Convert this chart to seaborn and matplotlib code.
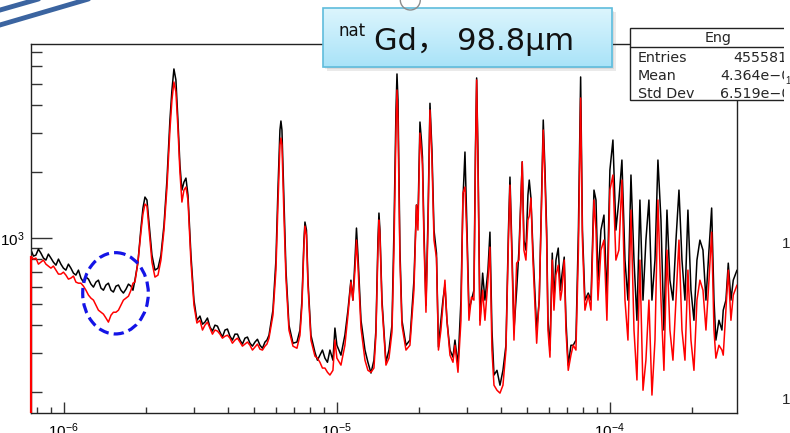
import numpy as np
import pandas as pd
import matplotlib
matplotlib.use("Agg")
import matplotlib.pyplot as plt
import seaborn as sns
from matplotlib.colors import LinearSegmentedColormap
from matplotlib.lines import Line2D
from matplotlib.patches import Arc, Ellipse, Rectangle
from matplotlib.ticker import LogLocator, LogFormatterSciNotation, NullFormatter
from matplotlib.transforms import Affine2D, Bbox

# Neutron energy of each sampled bin (eV)
energy_ev = [
    0.760, 0.776, 0.792, 0.809, 0.826, 0.844, 0.862, 0.880, 0.899, 0.918,
    0.938, 0.958, 0.978, 0.999, 1.020, 1.042, 1.064, 1.087, 1.110, 1.134,
    1.158, 1.183, 1.208, 1.234, 1.260, 1.287, 1.314, 1.342, 1.371, 1.400,
    1.430, 1.460, 1.492, 1.523, 1.556, 1.589, 1.623, 1.657, 1.693, 1.729,
    1.766, 1.796, 1.826, 1.873, 1.921, 1.954, 1.987, 2.021, 2.055, 2.108,
    2.162, 2.218, 2.274, 2.333, 2.392, 2.453, 2.495, 2.537, 2.580, 2.624,
    2.669, 2.714, 2.761, 2.808, 2.856, 2.929, 3.004, 3.080, 3.160, 3.228,
    3.296, 3.366, 3.438, 3.511, 3.586, 3.662, 3.741, 3.819, 3.902, 3.984,
    4.070, 4.155, 4.245, 4.335, 4.429, 4.521, 4.619, 4.716, 4.818, 4.920,
    5.026, 5.132, 5.242, 5.354, 5.468, 5.559, 5.656, 5.848, 5.998, 6.100,
    6.204, 6.256, 6.310, 6.417, 6.527, 6.694, 6.924, 7.161, 7.345, 7.470,
    7.597, 7.661, 7.759, 7.858, 8.058, 8.334, 8.511, 8.693, 8.879, 9.068,
    9.262, 9.458, 9.700, 9.865, 10.03, 10.38, 10.73, 11.01, 11.29, 11.48,
    11.68, 11.83, 11.98, 12.29, 12.71, 13.03, 13.37, 13.71,
    13.94, 14.18, 14.30, 14.42, 14.67, 15.17, 15.56, 15.96, 16.23, 16.51,
    16.65, 16.79, 17.07, 17.36, 17.96, 18.57, 19.21, 19.62, 19.87, 20.21,
    20.46, 20.64, 20.90, 21.26, 21.62, 21.99, 22.36, 22.75, 23.23, 23.62,
    24.12, 24.53, 24.95, 25.37, 26.03, 26.70, 27.15, 27.85, 28.56, 29.04,
    29.54, 30.05, 30.55, 31.20, 31.86, 32.27, 32.60, 32.95, 33.52, 34.29,
    34.96, 35.86, 36.47, 37.09, 37.73, 38.70, 39.69, 40.70, 41.74, 42.63,
    43.18, 43.91, 44.66, 45.68, 46.57, 47.88, 48.57, 49.40, 50.24, 50.80,
    51.53, 52.41, 54.08, 55.28, 56.30, 57.17, 58.01, 58.84, 59.49, 60.50,
    61.68, 62.57, 63.64, 64.88, 66.09, 66.93, 68.23, 69.23, 70.58, 72.21,
    73.62, 75.32, 76.91, 78.36, 79.56, 81.26, 83.55, 85.5, 87.7, 89.2,
    90.7, 93.0, 95.4, 97.8, 100.3, 102.9, 105.5, 108.2, 111.0, 113.9,
    116.8, 119.8, 122.9, 126.0, 129.2, 132.6, 135.9, 139.4, 143.0, 146.7,
    150.4, 154.3, 158.2, 162.3, 166.4, 170.7, 175.1, 179.6, 184.2, 188.9,
    193.7, 198.7, 203.8, 209.0, 214.3, 219.9, 225.5, 231.3, 236.6, 241.3,
    245.2, 251.6, 258.0, 260.9, 266.9, 272.2, 278.4, 283.9, 293.0,
]

# Counts per bin: open beam (black)
counts_open = [
    879, 826, 834, 888, 852, 809, 792, 843, 809, 775,
    751, 800, 759, 728, 713, 759, 728, 691, 677, 713,
    656, 629, 663, 649, 616, 597, 629, 642, 591, 578,
    610, 622, 578, 567, 603, 610, 578, 561, 584, 616,
    603, 578, 642, 775, 1107, 1365, 1531, 1484, 1179, 834,
    713, 728, 834, 1142, 1829, 3427, 4690, 5846, 5210, 3427,
    2140, 1647, 1791, 1867, 1564, 834, 521, 422, 441, 405,
    414, 432, 393, 377, 401, 397, 373, 354, 381, 385,
    357, 343, 365, 365, 343, 329, 350, 354, 332, 322,
    336, 346, 325, 315, 336, 343, 361, 469, 792, 1647,
    3087, 3392, 3087, 1484, 713, 401, 332, 336, 381, 521,
    976, 1179, 1084, 642, 361, 302, 278, 293, 309, 284,
    272, 309, 278, 389, 325, 293, 361, 469, 642, 521,
    792, 1107, 834, 422, 309, 272, 243, 278,
    381, 976, 1295, 1084, 521, 272, 309, 401, 1084, 3806,
    5548, 4226, 879, 422, 325, 343, 642, 1409, 1204, 3356,
    2780, 2327, 1084, 494, 1204, 4083, 2504, 1084, 852, 319,
    422, 521, 610, 422, 309, 287, 343, 264, 521, 1484,
    2452, 1084, 469, 521, 578, 2504, 5321, 2504, 422, 691,
    521, 713, 1061, 381, 238, 250, 214, 250, 325, 1084,
    1887, 879, 381, 578, 879, 2213, 976, 879, 1564, 1829,
    1515, 879, 381, 521, 1484, 3427, 2031, 1084, 422, 309,
    852, 521, 792, 898, 578, 677, 817, 422, 264, 325,
    325, 343, 1084, 5377, 1084, 521, 561, 521, 1647, 1484,
    642, 1084, 1268, 521, 2031, 2780, 1084, 1484, 2255, 792,
    521, 1928, 792, 422, 1484, 521, 976, 1484, 521, 792,
    2255, 1204, 381, 1336, 642, 521, 976, 1647, 792, 521,
    1336, 578, 422, 792, 976, 879, 521, 879, 1365, 521,
    343, 422, 381, 469, 521, 767, 521, 642, 713,
]

# Counts per bin: natGd foil in the beam (red)
counts_gd = [
    826, 800, 809, 759, 775, 792, 759, 744, 728, 744,
    713, 684, 684, 698, 677, 649, 656, 670, 629, 622,
    622, 603, 578, 549, 532, 521, 494, 469, 459, 450,
    432, 414, 445, 459, 459, 469, 494, 521, 532, 543,
    578, 622, 629, 775, 1061, 1282, 1423, 1394, 1107, 775,
    663, 677, 792, 1084, 1683, 3087, 4226, 5102, 4596, 3152,
    1988, 1453, 1647, 1700, 1484, 775, 494, 410, 422, 381,
    401, 414, 389, 365, 381, 377, 365, 350, 357, 361,
    350, 332, 343, 350, 336, 322, 329, 336, 325, 309,
    319, 329, 312, 309, 322, 329, 350, 445, 713, 1409,
    2638, 2839, 2638, 1268, 656, 381, 322, 315, 361, 494,
    927, 1130, 1029, 610, 343, 290, 284, 272, 256, 256,
    245, 238, 250, 343, 284, 264, 325, 445, 629, 521,
    713, 976, 751, 389, 278, 250, 245, 256,
    361, 879, 1204, 1029, 494, 264, 284, 373, 879, 3087,
    4690, 3427, 792, 401, 309, 325, 578, 1409, 1084, 2990,
    2504, 2140, 976, 459, 1084, 3806, 2255, 976, 809, 309,
    381, 494, 642, 422, 293, 272, 325, 245, 422, 1597,
    1700, 976, 422, 538, 521, 2255, 5210, 2255, 401, 578,
    422, 642, 907, 309, 214, 203, 197, 214, 309, 976,
    1736, 792, 343, 767, 792, 2213, 879, 792, 1204, 1255,
    1515, 792, 332, 532, 1336, 3087, 1829, 976, 381, 287,
    792, 469, 677, 751, 521, 578, 792, 381, 250, 293,
    325, 309, 879, 4315, 976, 469, 549, 469, 1484, 1084,
    521, 879, 976, 422, 1647, 1928, 792, 879, 1829, 521,
    343, 1336, 381, 226, 792, 203, 278, 521, 193, 343,
    1484, 521, 250, 879, 381, 278, 521, 976, 381, 278,
    713, 343, 250, 521, 642, 578, 381, 642, 1061, 381,
    284, 325, 309, 293, 469, 713, 422, 549, 610,
]

x_range_mev = (0.76e-6, 2.93e-4)
y_range = (160, 7590)

stat_title = "Eng"
stat_names = ["Entries", "Mean", "Std Dev"]
stat_values = ["4555812", "4.364e\u221205", "6.519e\u221205"]
sample_prefix = "nat"
sample_label = "Gd\uff0c 98.8\u03bcm"

W, H, DPI = 790, 433, 100
sns.set_theme(style="white")
plt.rcParams["font.family"] = ["Liberation Sans", "DejaVu Sans"]
plt.rcParams["mathtext.default"] = "regular"

fig = plt.figure(figsize=(W / DPI, H / DPI), dpi=DPI, facecolor="white")
# pixel coordinates measured from the top-left corner of the canvas
px = Affine2D().scale(1, -1).translate(0, H).scale(1 / DPI) + fig.dpi_scale_trans
# the panel ends where the neighbouring pad begins
panel_clip = Bbox([[0, 0], [784, H]])

ax = fig.add_axes([31 / W, 1 - 413 / H, 706 / W, 369 / H])
df = pd.DataFrame({
    "energy": np.array(energy_ev) * 1e-6,
    "open": counts_open,
    "gd": counts_gd,
})
sns.lineplot(data=df, x="energy", y="open", ax=ax, color="black", lw=1.1,
             estimator=None, sort=False, zorder=2)
sns.lineplot(data=df, x="energy", y="gd", ax=ax, color="red", lw=1.1,
             estimator=None, sort=False, zorder=3)
# the red histogram rises from the frame bottom at its first bin edge
ax.vlines(df["energy"].iloc[0], y_range[0], df["gd"].iloc[0], color="red",
          lw=1.6, zorder=4, clip_on=False)
ax.set(xscale="log", yscale="log", xlim=x_range_mev, ylim=y_range,
       xlabel="", ylabel="")

for axis in (ax.xaxis, ax.yaxis):
    axis.set_major_locator(LogLocator(base=10, numticks=20))
    axis.set_minor_locator(LogLocator(base=10, subs=np.arange(2, 10), numticks=100))
    axis.set_major_formatter(LogFormatterSciNotation())
    axis.set_minor_formatter(NullFormatter())
ax.tick_params(which="both", direction="in", bottom=True, left=True, top=False,
               right=False, color="#333333", width=1.0, labelsize=11,
               labelcolor="black")
ax.tick_params(axis="x", which="major", length=8, pad=6)
ax.tick_params(axis="x", which="minor", length=4.2)
ax.tick_params(axis="y", which="major", length=15, pad=5)
ax.tick_params(axis="y", which="minor", length=7.7)
for spine in ax.spines.values():
    spine.set_color("#222222")
    spine.set_linewidth(1.0)

# dashed ring around the dip near 1.5 eV
fig.add_artist(Ellipse((115.5, 293.3), 65.6, 81.3, transform=px, fill=False,
                       ec="#1414e6", lw=2.3, ls=(0, (3.2, 1.6)), zorder=10))

# slide corner stripes
for x0, y0, x1, y1 in [(-10, 12.9, 40, -1.4), (-10, 27.9, 95, -2.9)]:
    fig.add_artist(Line2D([x0, x1], [y0, y1], transform=px, color="#3b64a0",
                          lw=3.5, zorder=10))

# sample caption box
bx0, by0, bx1, by1 = 322.7, 8.3, 611.7, 66.7
for k, a in enumerate([0.10, 0.10, 0.12]):
    off = 1.5 + k * 1.2
    fig.add_artist(Rectangle((bx0 + off, by0 + off), bx1 - bx0, by1 - by0,
                             transform=px, fc="#555555", ec="none", alpha=a,
                             zorder=4))
bax = fig.add_axes([bx0 / W, 1 - by1 / H, (bx1 - bx0) / W, (by1 - by0) / H],
                   zorder=5)
grad = np.linspace(0, 1, 64).reshape(-1, 1)
bax.imshow(grad, aspect="auto", origin="upper", extent=(0, 1, 0, 1),
           cmap=LinearSegmentedColormap.from_list("box", ["#dcf5fd", "#a9e3f8"]))
bax.set_axis_off()
fig.add_artist(Rectangle((bx0, by0), bx1 - bx0, by1 - by0, transform=px,
                         fill=False, ec="#5fbcdc", lw=1.2, zorder=6))
fig.add_artist(Arc((410.3, 0), 20, 20, theta1=0, theta2=180, transform=px,
                   ec="#8c8c8c", lw=1.0, zorder=7))
cap_font = ["DejaVu Sans", "Noto Sans CJK SC"]
fig.text(339, 36, sample_prefix, transform=px, fontsize=12, family=cap_font,
         va="baseline", ha="left", color="#111111", zorder=8)
fig.text(374, 50, sample_label, transform=px, fontsize=22, family=cap_font,
         va="baseline", ha="left", color="#111111", zorder=8)

# statistics box, cut by the edge of the panel
sx0, sy0, sy_title, sy1 = 630, 28.3, 46.7, 100
box = Rectangle((sx0, sy0), 200, sy1 - sy0, transform=px, fc="white",
                ec="#222222", lw=1.0, zorder=6)
rule = Line2D([sx0, 830], [sy_title, sy_title], transform=px,
              color="#222222", lw=1.0, zorder=7)
stat_artists = [box, rule]
stat_font = ["DejaVu Sans"]
stat_artists.append(fig.text(718, 42, stat_title, transform=px, fontsize=10.3,
                             family=stat_font, va="baseline", ha="center",
                             zorder=8))
for name, value, yb, xv in zip(stat_names, stat_values, [62, 80, 98], [733, 720, 720]):
    stat_artists.append(fig.text(638, yb, name, transform=px, fontsize=10.3,
                                 family=stat_font, va="baseline", ha="left",
                                 zorder=8))
    stat_artists.append(fig.text(xv, yb, value, transform=px, fontsize=10.3,
                                 family=stat_font, va="baseline", ha="left",
                                 zorder=8))
for artist in stat_artists[:2]:
    fig.add_artist(artist)
for artist in stat_artists:
    artist.set_clip_box(panel_clip)
    artist.set_clip_on(True)

# tick labels of the neighbouring panel at the right edge
for yc in (244, 400):
    fig.text(782, yc, "1", transform=px, fontsize=11, va="center", ha="left")
fig.text(785.5, 81, "1", transform=px, fontsize=7, va="center", ha="left", zorder=9)

fig.savefig("out.png", dpi=DPI, facecolor="white")
